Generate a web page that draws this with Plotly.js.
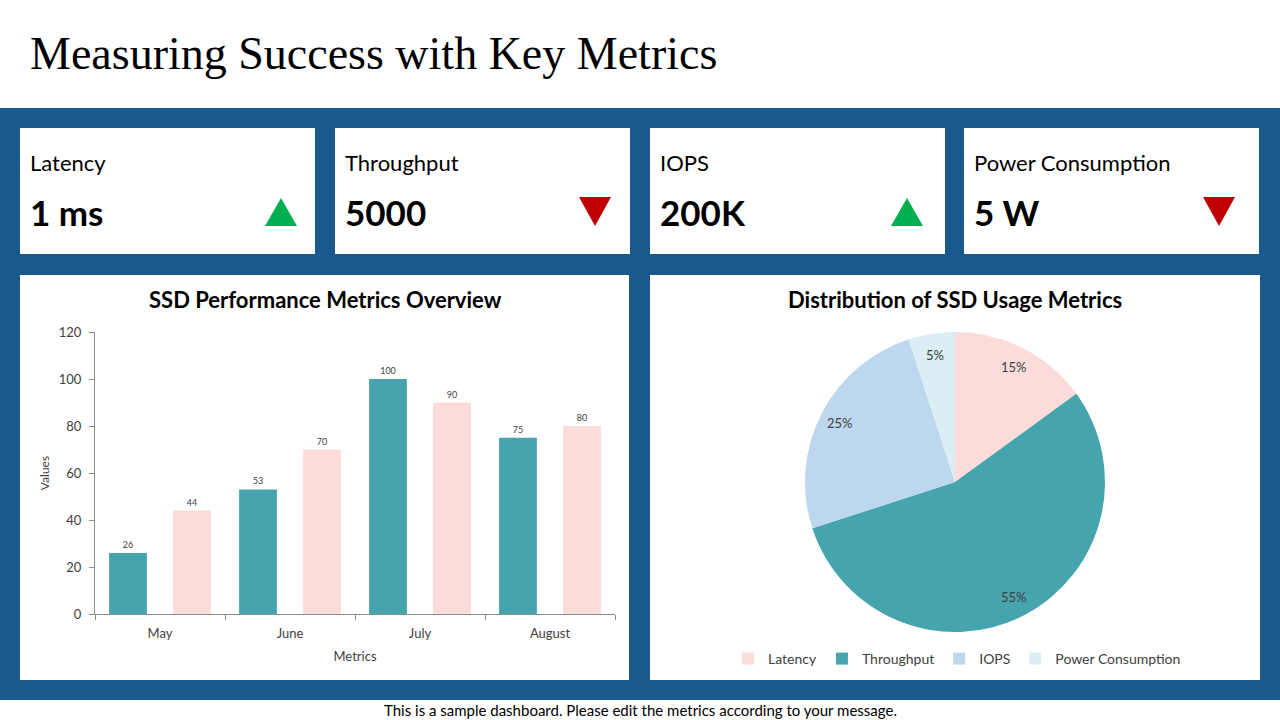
<!DOCTYPE html>
<html>
<head>
<meta charset="utf-8">
<script src="https://cdn.plot.ly/plotly-3.0.1.min.js"></script>
<style>html,body{margin:0;padding:0;background:#fff;}#chart{width:1280px;height:720px;}</style>
</head>
<body>
<div id="chart"></div>
<script>
// ---- data ----
const pageTitle = "Measuring Success with Key Metrics";
const footerText = "This is a sample dashboard. Please edit the metrics according to your message.";

const kpiLabels = ["Latency", "Throughput", "IOPS", "Power Consumption"];
const kpiValues = ["1 ms", "5000", "200K", "5 W"];
const kpiTrends = ["up", "down", "up", "down"];

const barTitle = "SSD Performance Metrics Overview";
const months = ["May", "June", "July", "August"];
const series1 = [26, 53, 100, 75];
const series2 = [44, 70, 90, 80];
const yTicks = [0, 20, 40, 60, 80, 100, 120];

const pieTitle = "Distribution of SSD Usage Metrics";
const pieLabels = ["Latency", "Throughput", "IOPS", "Power Consumption"];
const pieValues = [15, 55, 25, 5];

// ---- styling / layout ----
const W = 1280, H = 720;
const px = x => x / W;
const py = y => 1 - y / H;
const BLUE = "#1B588C";
const TEAL = "#45A4AE";
const PINK = "#FCDCDA";
const LBLUE = "#BDD7EE";
const PALE = "#DAEEF3";
const TXT = "#404040";
const FONT = "Lato, 'Noto Sans', sans-serif";

const shapes = [];
const annotations = [];

function rect(x0, y0, x1, y1, color) {
  shapes.push({type: "rect", xref: "paper", yref: "paper", layer: "below",
    x0: px(x0), x1: px(x1), y0: py(y1), y1: py(y0),
    fillcolor: color, line: {width: 0}});
}
function text(t, x, y, size, opts) {
  annotations.push(Object.assign({text: t, xref: "paper", yref: "paper",
    x: px(x), y: py(y), showarrow: false, xanchor: "left", yanchor: "middle",
    borderpad: 0, font: {family: FONT, size: size, color: "#000"}}, opts || {}));
}

// page background panel
rect(0, 108, 1280, 700, BLUE);
// KPI cards
const cardX = [20, 335, 650, 964];
const cardW = 295;
const triX = [281, 595, 907, 1219];
kpiLabels.forEach((lab, i) => {
  const x0 = cardX[i];
  rect(x0, 128, x0 + cardW, 254, "#FFFFFF");
  text(lab, x0 + 9, 163, 22, {font: {family: FONT, size: 22, color: "#000"}});
  text("<b>" + kpiValues[i] + "</b>", x0 + 9, 212, 35, {font: {family: FONT, size: 35, color: "#000"}});
  const cx = triX[i];
  let path, col;
  if (kpiTrends[i] === "up") {
    path = `M ${px(cx - 16)} ${py(226)} L ${px(cx + 16)} ${py(226)} L ${px(cx)} ${py(198)} Z`;
    col = "#00B050";
  } else {
    path = `M ${px(cx - 16)} ${py(197)} L ${px(cx + 16)} ${py(197)} L ${px(cx)} ${py(226)} Z`;
    col = "#C00000";
  }
  shapes.push({type: "path", xref: "paper", yref: "paper", path: path, fillcolor: col, line: {width: 0}});
});
// chart panels
rect(20, 275, 629, 680, "#FFFFFF");
rect(650, 275, 1260, 680, "#FFFFFF");

// titles
text(pageTitle, 29, 54, 46, {font: {family: "'Liberation Serif', 'DejaVu Serif', serif", size: 46, color: "#000"}});
text(footerText, 640, 710, 15, {xanchor: "center", font: {family: FONT, size: 15, color: "#000"}});
text("<b>" + barTitle + "</b>", 325, 299, 22, {xanchor: "center", font: {family: FONT, size: 22, color: "#000"}});
text("<b>" + pieTitle + "</b>", 955, 299, 22, {xanchor: "center", font: {family: FONT, size: 22, color: "#000"}});

// pie percentage labels, placed from the data at 86% of the radius
const pieCX = 955, pieCY = 482, pieR = 150;
const total = pieValues.reduce((a, b) => a + b, 0);
let cum = 0;
pieValues.forEach(v => {
  const mid = (cum + v / 2) / total * 2 * Math.PI;
  cum += v;
  const tx = pieCX + 0.86 * pieR * Math.sin(mid);
  const ty = pieCY - 0.86 * pieR * Math.cos(mid);
  text(Math.round(v / total * 100) + "%", tx, ty, 13, {xanchor: "center", font: {family: FONT, size: 13, color: TXT}});
});

const traces = [
  {type: "bar", x: months, y: series1, name: "Series 1", marker: {color: TEAL},
   text: series1.map(String), textposition: "outside", cliponaxis: false,
   textfont: {family: FONT, size: 9, color: TXT}, showlegend: false, hoverinfo: "x+y"},
  {type: "bar", x: months, y: series2, name: "Series 2", marker: {color: PINK},
   text: series2.map(String), textposition: "outside", cliponaxis: false,
   textfont: {family: FONT, size: 9, color: TXT}, showlegend: false, hoverinfo: "x+y"},
  {type: "pie", labels: pieLabels, values: pieValues, sort: false, direction: "clockwise",
   rotation: 0, textinfo: "none",
   marker: {colors: [PINK, TEAL, LBLUE, PALE], line: {width: 0}},
   domain: {x: [px(805), px(1105)], y: [py(632), py(332)]}, automargin: false}
];

const layout = {
  width: W, height: H,
  margin: {l: 0, r: 0, t: 0, b: 0},
  paper_bgcolor: "#FFFFFF",
  plot_bgcolor: "rgba(0,0,0,0)",
  font: {family: FONT, color: TXT},
  barmode: "group",
  bargap: 0.015,
  bargroupgap: 0.41,
  xaxis: {domain: [px(95), px(615)], type: "category", showgrid: false, zeroline: false,
    showline: true, linecolor: "#8C8C8C", linewidth: 1, ticks: "outside", tickson: "boundaries",
    ticklen: 5, tickcolor: "#8C8C8C", tickfont: {family: FONT, size: 13, color: TXT},
    ticklabelstandoff: 7,
    title: {text: "Metrics", font: {family: FONT, size: 13, color: TXT}, standoff: 12}, fixedrange: true},
  yaxis: {domain: [py(614), py(332)], range: [0, 120], tickvals: yTicks, showgrid: false, zeroline: false,
    showline: true, linecolor: "#8C8C8C", linewidth: 1, ticks: "outside", ticklen: 5, tickcolor: "#8C8C8C",
    tickfont: {family: FONT, size: 13, color: TXT}, ticklabelstandoff: 5,
    title: {text: "Values", font: {family: FONT, size: 12, color: TXT}, standoff: 6}, fixedrange: true},
  showlegend: true,
  legend: {orientation: "h", x: px(957), xanchor: "center", y: py(659), yanchor: "middle",
    font: {family: FONT, size: 14, color: TXT}, bgcolor: "rgba(0,0,0,0)", itemwidth: 30,
    tracegroupgap: 0},
  shapes: shapes,
  annotations: annotations
};

Plotly.newPlot("chart", traces, layout, {displayModeBar: false, staticPlot: true});
</script>
</body>
</html>
